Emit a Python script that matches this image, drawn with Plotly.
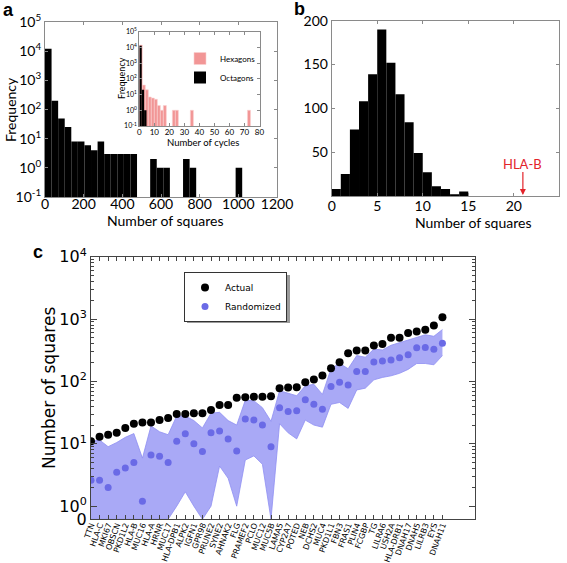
import math
import plotly.graph_objects as go

# ---------------- data ----------------
# panel a: histogram of number of squares (bin width 34, starting at 0)
sq_bin_start = 0
sq_bin_width = 34
sq_counts = [12000, 200, 49, 25, 8, 8, 6, 4, 8, 3, 3, 3, 3, 3, 0,
             0, 2, 1, 1, 0, 0, 2, 1, 0, 0, 0, 0, 0, 0, 1]

# inset: number of cycles
hex_bin_start = 0
hex_bin_width = 2
hex_counts = [14000, 40, 20, 7, 6, 5, 2, 1, 2, 0, 0, 1, 1, 0, 0, 0, 0, 1,
              0, 0, 0, 0, 0, 0, 0, 0, 0, 0, 0, 0, 0, 0, 0, 0, 0, 0, 1]
oct_bin_start = 0
oct_bin_width = 1.6
oct_counts = [13000, 20, 1]

# panel b: randomized distribution of squares
b_bin_start = 0
b_bin_width = 1
b_counts = [8, 25, 76, 108, 139, 190, 152, 116, 84, 49, 27, 11, 8, 2, 5]
hla_b_value = 21

# panel c
genes = ["TTN", "HLA-C", "MKI67", "OBSCN", "PKD1L2", "HLA-B", "MUC16", "HLA-A",
         "HRNR", "MUC17", "HLA-DPB1", "ALPK2", "IGFN1", "GPR98", "PRUNE2", "SYNE2",
         "AHNAK2", "FLG", "PRAMEF2", "PCLO", "MUC12", "MUC5B", "LAMA5", "CYP2A7",
         "POTED", "NEB", "DCHS2", "MUC4", "PKD1L1", "FBN3", "FRAS1", "PLIN4",
         "FCGBP", "TG", "LILRA6", "USH2A", "HLA-DRB1", "DNAH17", "DNAH5", "LILRB3",
         "EYS", "DNAH11"]
actual = [11, 13, 14, 15, 18, 21, 22, 22, 24, 26, 30, 30, 31, 31, 35, 42, 42, 55,
          56, 57, 57, 58, 78, 80, 81, 97, 107, 124, 163, 203, 284, 314, 314, 378,
          400, 500, 500, 600, 635, 675, 790, 1070]
randomized = [2.6, 2.6, 2.0, 3.5, 4.1, 5.0, 1.2, 6.6, 6.3, 5.0, 11, 14.5, 10, 7.5,
              15, 16, 12, 7.7, 25, 24, 20, 9, 38, 33, 34, 51, 43, 36, 83, 97, 88,
              145, 145, 205, 212, 220, 240, 268, 346, 350, 328, 410]
rand_upper = [11, 11.5, 9.0, 10.5, 12.7, 14.6, 5.9, 19.4, 15.6, 14, 28, 28, 23.6,
              18, 31, 32, 23.6, 20, 50, 49, 38, 23, 71, 64, 59, 85, 90, 62, 160,
              195, 160, 260, 245, 330, 320, 380, 420, 460, 520, 560, 530, 680]
rand_lower = [0, 0, 0, 0, 0, 0, 0, 0, 0, 0, 1.0, 1.7, 1.0, 0, 1.0, 4.4, 2.8, 1.0,
              5.5, 6.4, 4.7, 0, 21, 15, 12, 24, 20, 18.5, 43, 46, 37, 73, 78, 106,
              116, 123, 135, 156, 194, 194, 185, 260]

a_xticks = [0, 200, 400, 600, 800, 1000, 1200]
log_exps = [-1, 0, 1, 2, 3, 4, 5]
inset_xticks = [0, 10, 20, 30, 40, 50, 60, 70, 80]
b_xticks = [0, 5, 10, 15, 20, 25]
b_yticks = [50, 100, 150, 200]
c_yticks = [0, 1, 10, 100, 1000, 10000]

# ---------------- helpers ----------------
W, H = 567, 563


def px(x):
    return x / W


def py(y):
    return 1 - y / H


def bins(start, width, counts):
    xs, ys = [], []
    for k, c in enumerate(counts):
        if c > 0:
            xs.append(start + (k + 0.5) * width)
            ys.append(c)
    return xs, ys


LIN = 0.21  # symlog linear-region scale


def sy(v):
    return LIN * v if v < 1 else LIN + math.log10(v)


def sup_label(e):
    return "10<sup>%d</sup>" % e


fig = go.Figure()

# panel a
ax_, ay_ = bins(sq_bin_start, sq_bin_width, sq_counts)
fig.add_trace(go.Bar(x=ax_, y=ay_, width=sq_bin_width, marker=dict(color="black", line=dict(width=0)),
                     xaxis="x", yaxis="y", showlegend=False))
# inset
hx, hy = bins(hex_bin_start, hex_bin_width, hex_counts)
fig.add_trace(go.Bar(x=hx, y=hy, width=hex_bin_width, name="Hexagons",
                     marker=dict(color="#F29696", line=dict(color="#FAD0D0", width=0.6)),
                     xaxis="x2", yaxis="y2", legend="legend"))
ox, oy = bins(oct_bin_start, oct_bin_width, oct_counts)
fig.add_trace(go.Bar(x=ox, y=oy, width=oct_bin_width, name="Octagons",
                     marker=dict(color="black", line=dict(width=0)),
                     xaxis="x2", yaxis="y2", legend="legend"))
# panel b
bx, by = bins(b_bin_start, b_bin_width, b_counts)
fig.add_trace(go.Bar(x=bx, y=by, width=b_bin_width, marker=dict(color="black", line=dict(width=0)),
                     xaxis="x3", yaxis="y3", showlegend=False))
# panel c band
fig.add_trace(go.Scatter(x=genes, y=[sy(v) for v in rand_upper], mode="lines",
                         line=dict(color="#8F8FF2", width=0.8), xaxis="x4", yaxis="y4",
                         showlegend=False, hoverinfo="skip"))
fig.add_trace(go.Scatter(x=genes, y=[sy(v) for v in rand_lower], mode="lines",
                         line=dict(color="#8F8FF2", width=0.8), fill="tonexty",
                         fillcolor="rgba(125,125,242,0.66)", xaxis="x4", yaxis="y4",
                         showlegend=False, hoverinfo="skip"))
fig.add_trace(go.Scatter(x=genes, y=[sy(v) for v in actual], mode="markers", name="Actual",
                         marker=dict(color="black", size=8), xaxis="x4", yaxis="y4",
                         legend="legend2"))
fig.add_trace(go.Scatter(x=genes, y=[sy(v) for v in randomized], mode="markers", name="Randomized",
                         marker=dict(color="#6A6AE6", size=7), xaxis="x4", yaxis="y4",
                         legend="legend2"))

fa = dict(family="Lato, Calibri, sans-serif", size=14, color="black")
frame_a = dict(showline=True, linecolor="#8a8a8a", linewidth=1, mirror="ticks",
               ticks="inside", ticklen=3, tickcolor="#8a8a8a", showgrid=False, zeroline=False,
               automargin=False)

minor_c = []
for k in range(0, 4):
    for m in range(2, 10):
        minor_c.append(sy(m * 10 ** k))

fig.update_layout(
    template="none",
    width=W, height=H, margin=dict(l=0, r=0, t=0, b=0, autoexpand=False),
    paper_bgcolor="white", plot_bgcolor="white", barmode="overlay",
    font=dict(family="DejaVu Sans", color="black"),
    xaxis=dict(domain=[px(45), px(277)], anchor="y", range=[0, 1200], tickvals=a_xticks,
               tickfont=fa, ticklabelstandoff=-6, **frame_a),
    yaxis=dict(domain=[py(197), py(22)], anchor="x", type="log", range=[-1, 5],
               tickvals=[10 ** e for e in log_exps], ticktext=[sup_label(e) for e in log_exps],
               tickfont=fa, **frame_a),
    xaxis2=dict(domain=[px(139.3), px(259.5)], anchor="y2", range=[0, 80], tickvals=inset_xticks,
                tickfont=dict(family="Lato, sans-serif", size=8), ticklabelstandoff=-2, **frame_a),
    yaxis2=dict(domain=[py(126), py(31.7)], anchor="x2", type="log", range=[-1, 5],
                tickvals=[10 ** e for e in log_exps], ticktext=[sup_label(e) for e in log_exps],
                tickfont=dict(family="Lato, sans-serif", size=7), **frame_a),
    xaxis3=dict(domain=[px(331.7), px(559.3)], anchor="y3", range=[0, 25], tickvals=b_xticks,
                tickfont=fa, ticklabelstandoff=-3, **frame_a),
    yaxis3=dict(domain=[py(196), py(20.7)], anchor="x3", range=[0, 200], tickvals=b_yticks,
                tickfont=fa, **frame_a),
    xaxis4=dict(domain=[px(91), px(475)], anchor="y4", range=[0, 44.8],
                tickmode="array", tickvals=genes, ticktext=genes, tickangle=-70,
                tickfont=dict(family="DejaVu Sans", size=8, color="black"),
                ticklabelstandoff=-3,
                showline=True, linecolor="#444", linewidth=1, mirror="ticks",
                ticks="inside", ticklen=4, tickcolor="#444", showgrid=False, zeroline=False,
                automargin=False),
    yaxis4=dict(domain=[py(519.3), py(256.7)], anchor="x4", range=[0, LIN + 4],
                tickvals=[sy(v) for v in c_yticks],
                ticktext=["0"] + [sup_label(e) for e in range(0, 5)],
                tickfont=dict(family="DejaVu Sans", size=16, color="black"),
                showline=True, linecolor="#444", linewidth=1, mirror="ticks",
                ticks="inside", ticklen=6, tickcolor="#444", showgrid=False, zeroline=False,
                automargin=False,
                minor=dict(tickvals=minor_c, ticks="inside", ticklen=3, tickcolor="#444")),
    legend=dict(x=px(180), y=py(44), xanchor="left", yanchor="top", bgcolor="rgba(0,0,0,0)",
                borderwidth=0, font=dict(family="Lato, sans-serif", size=8), tracegroupgap=0,
                traceorder="normal", itemwidth=30),
    legend2=dict(x=px(184), y=py(272), xanchor="left", yanchor="top", bgcolor="white",
                 bordercolor="#333", borderwidth=1, font=dict(family="DejaVu Sans", size=9),
                 traceorder="normal", itemwidth=30),
)

# drop shadow behind the panel-c legend box
fig.add_shape(type="rect", xref="paper", yref="paper", x0=px(187), x1=px(290), y0=py(323),
              y1=py(275), fillcolor="#9a9a9a", line=dict(width=0), layer="above")

anns = [
    dict(text="<b>a</b>", x=px(8), y=py(10), font=dict(family="Liberation Sans", size=18)),
    dict(text="<b>b</b>", x=px(299), y=py(9), font=dict(family="Liberation Sans", size=18)),
    dict(text="<b>c</b>", x=px(38), y=py(252), font=dict(family="Liberation Sans", size=18)),
    dict(text="Frequency", x=px(11), y=py(110), textangle=-90, font=fa),
    dict(text="Number of squares", x=px(165), y=py(221), font=fa),
    dict(text="Frequency", x=px(121), y=py(78), textangle=-90, font=dict(family="Lato, sans-serif", size=9)),
    dict(text="Number of cycles", x=px(203), y=py(142), font=dict(family="Lato, sans-serif", size=9.5)),
    dict(text="Number of squares", x=px(473), y=py(222), font=fa),
    dict(text="Number of squares", x=px(49), y=py(388), textangle=-90,
         font=dict(family="DejaVu Sans", size=17)),
]
for a in anns:
    a.update(xref="paper", yref="paper", showarrow=False, xanchor="center", yanchor="middle")
    fig.add_annotation(**a)

fig.add_annotation(text="HLA-B", x=hla_b_value, y=36, xref="x3", yref="y3", showarrow=False,
                   font=dict(family="Lato, sans-serif", size=13, color="#E3242B"))
fig.add_annotation(text="", x=hla_b_value, y=1, ax=hla_b_value, ay=29, xref="x3", yref="y3",
                   axref="x3", ayref="y3", showarrow=True, arrowhead=2, arrowsize=1,
                   arrowwidth=1.2, arrowcolor="#E3242B")

fig.write_html("out.html", config={"displayModeBar": False},
               post_script="document.body.style.margin='0px';")
